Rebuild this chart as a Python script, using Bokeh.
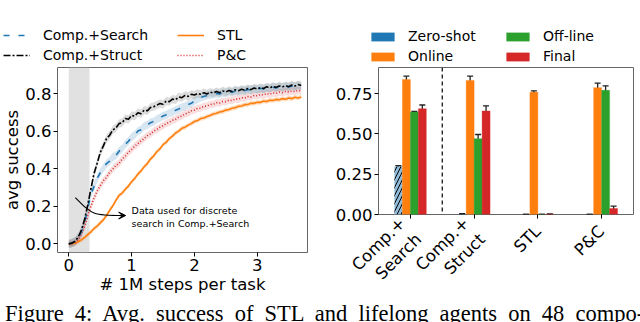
import numpy as np
from bokeh.plotting import figure
from bokeh.models import (ColumnDataSource, Legend, LegendItem, BoxAnnotation, Span, Label,
                          Arrow, VeeHead, Whisker, TeeHead, FixedTicker, NumeralTickFormatter,
                          Div, Range1d)
from bokeh.embed import file_html
from bokeh.resources import INLINE
from bokeh.transform import dodge

# ---------------- data: learning curves ----------------
steps = [0.00, 0.05, 0.10, 0.15, 0.20, 0.25, 0.30, 0.35, 0.40, 0.45, 0.50, 0.55, 0.60, 0.65, 0.70,
         0.75, 0.80, 0.85, 0.90, 0.95, 1.00, 1.05, 1.10, 1.15, 1.20, 1.25, 1.30, 1.35, 1.40, 1.45,
         1.50, 1.55, 1.60, 1.65, 1.70, 1.75, 1.80, 1.85, 1.90, 1.95, 2.00, 2.05, 2.10, 2.15, 2.20,
         2.25, 2.30, 2.35, 2.40, 2.45, 2.50, 2.55, 2.60, 2.65, 2.70, 2.75, 2.80, 2.85, 2.90, 2.95,
         3.00, 3.05, 3.10, 3.15, 3.20, 3.25, 3.30, 3.35, 3.40, 3.45, 3.50, 3.55, 3.60, 3.65, 3.70]

comp_struct = [0.000, 0.004, 0.014, 0.036, 0.072, 0.128, 0.205, 0.290, 0.372, 0.428, 0.486, 0.522, 0.561, 0.579, 0.607,
               0.618, 0.641, 0.646, 0.668, 0.664, 0.684, 0.681, 0.699, 0.694, 0.713, 0.709, 0.727, 0.731, 0.739, 0.748,
               0.744, 0.761, 0.758, 0.772, 0.768, 0.783, 0.779, 0.791, 0.786, 0.797, 0.793, 0.802, 0.797, 0.806, 0.799,
               0.809, 0.804, 0.812, 0.806, 0.815, 0.809, 0.818, 0.812, 0.821, 0.816, 0.824, 0.819, 0.828, 0.822, 0.831,
               0.826, 0.833, 0.828, 0.837, 0.831, 0.839, 0.834, 0.842, 0.836, 0.844, 0.838, 0.847, 0.841, 0.849, 0.844]

comp_search = [0.000, 0.005, 0.013, 0.031, 0.063, 0.112, 0.184, 0.262, 0.305, 0.348, 0.379, 0.404, 0.428, 0.441, 0.462,
               0.471, 0.494, 0.508, 0.531, 0.547, 0.569, 0.581, 0.601, 0.608, 0.627, 0.633, 0.646, 0.652, 0.663, 0.671,
               0.682, 0.688, 0.697, 0.703, 0.712, 0.719, 0.727, 0.733, 0.743, 0.749, 0.762, 0.771, 0.781, 0.786, 0.791,
               0.794, 0.797, 0.801, 0.799, 0.806, 0.803, 0.811, 0.808, 0.815, 0.812, 0.819, 0.816, 0.823, 0.819, 0.826,
               0.822, 0.829, 0.825, 0.832, 0.828, 0.835, 0.831, 0.838, 0.833, 0.840, 0.836, 0.842, 0.838, 0.844, 0.841]

pandc = [0.000, 0.002, 0.009, 0.024, 0.051, 0.092, 0.148, 0.199, 0.243, 0.281, 0.309, 0.337, 0.354, 0.381, 0.398,
         0.418, 0.429, 0.452, 0.468, 0.489, 0.503, 0.521, 0.534, 0.549, 0.561, 0.577, 0.586, 0.601, 0.609, 0.622,
         0.629, 0.641, 0.648, 0.659, 0.664, 0.676, 0.681, 0.693, 0.698, 0.709, 0.713, 0.722, 0.724, 0.733, 0.735,
         0.743, 0.744, 0.752, 0.751, 0.759, 0.758, 0.766, 0.764, 0.772, 0.771, 0.779, 0.777, 0.785, 0.783, 0.791,
         0.789, 0.796, 0.794, 0.801, 0.798, 0.805, 0.802, 0.809, 0.806, 0.812, 0.809, 0.815, 0.812, 0.818, 0.815]

stl = [0.000, 0.001, 0.004, 0.011, 0.021, 0.034, 0.049, 0.063, 0.081, 0.094, 0.112, 0.128, 0.151, 0.178, 0.203,
       0.232, 0.258, 0.271, 0.291, 0.308, 0.331, 0.349, 0.372, 0.389, 0.411, 0.428, 0.452, 0.468, 0.491, 0.506,
       0.529, 0.541, 0.561, 0.574, 0.591, 0.601, 0.616, 0.622, 0.633, 0.641, 0.652, 0.657, 0.668, 0.671, 0.679,
       0.684, 0.692, 0.696, 0.703, 0.706, 0.713, 0.716, 0.723, 0.726, 0.733, 0.735, 0.742, 0.743, 0.749, 0.749,
       0.755, 0.754, 0.761, 0.759, 0.766, 0.764, 0.770, 0.768, 0.774, 0.771, 0.777, 0.774, 0.781, 0.777, 0.783]

band_struct = 0.022
band_search = 0.022
band_pandc = 0.02
band_stl = 0.012
search_window = 0.33   # data used for discrete search

# ---------------- data: bar chart ----------------
methods = ["Comp.+\nSearch", "Comp.+\nStruct", "STL", "P&C"]
zero_shot = [0.298, 0.003, 0.0, 0.0]
zero_shot_err = [0.006, 0.002, 0.0, 0.0]
online = [0.839, 0.833, 0.760, 0.788]
online_err = [0.020, 0.027, 0.008, 0.028]
offline = [0.636, 0.471, 0.0, 0.771]
offline_err = [0.004, 0.026, 0.0, 0.028]
final = [0.657, 0.643, 0.002, 0.037]
final_err = [0.023, 0.032, 0.0, 0.015]

FONT = "DejaVu Sans"
BLUE, ORANGE, GREEN, RED = "#1f77b4", "#ff7f0e", "#2ca02c", "#d62728"
LINE_STYLES = {"STL": (ORANGE, "solid"), "P&C": (RED, "1 2"),
               "Comp.+Search": (BLUE, "6 9"), "Comp.+Struct": ("black", "7 2 2 2")}
NAN = float("nan")


def place(left, top):
    return {"position": "absolute", "left": f"{left}px", "top": f"{top}px"}


def style_legend(lg, gw, gh, standoff):
    lg.label_text_font = FONT
    lg.label_text_font_size = "14px"
    lg.label_text_color = "black"
    lg.glyph_width = gw
    lg.glyph_height = gh
    lg.label_height = 16
    lg.label_standoff = standoff
    lg.spacing = 4
    lg.padding = 0
    lg.margin = 0
    lg.border_line_color = None
    lg.background_fill_alpha = 0


def legend_fig(left):
    f = figure(width=320, height=66, output_backend="svg", toolbar_location=None,
               x_range=Range1d(0, 1), y_range=Range1d(0, 1), x_axis_location=None,
               y_axis_location=None, min_border=0, styles=place(left, 0))
    f.grid.visible = False
    f.outline_line_color = None
    return f


# ================= legend strips =================
lf1 = legend_fig(0)
dummy = {}
for name, (col, dash) in LINE_STYLES.items():
    dummy[name] = lf1.line(x=[NAN], y=[NAN], line_color=col, line_width=1.6, line_dash=dash)
leg_a = Legend(items=[LegendItem(label="Comp.+Search", renderers=[dummy["Comp.+Search"]]),
                      LegendItem(label="Comp.+Struct", renderers=[dummy["Comp.+Struct"]])],
               location=(3, 3))
leg_b = Legend(items=[LegendItem(label="STL", renderers=[dummy["STL"]]),
                      LegendItem(label="P&C", renderers=[dummy["P&C"]])],
               location=(177, 3))
for lg in (leg_a, leg_b):
    style_legend(lg, 27, 16, 13)
    lf1.add_layout(lg, "center")

lf2 = legend_fig(320)
dbar = {}
for name, col in [("Zero-shot", BLUE), ("Online", ORANGE), ("Off-line", GREEN), ("Final", RED)]:
    dbar[name] = lf2.vbar(x=[NAN], top=[NAN], width=0.1, fill_color=col, line_color=None)
leg_c = Legend(items=[LegendItem(label="Zero-shot", renderers=[dbar["Zero-shot"]]),
                      LegendItem(label="Online", renderers=[dbar["Online"]])],
               location=(48, 2))
leg_d = Legend(items=[LegendItem(label="Off-line", renderers=[dbar["Off-line"]]),
                      LegendItem(label="Final", renderers=[dbar["Final"]])],
               location=(183, 2))
for lg in (leg_c, leg_d):
    style_legend(lg, 29, 11, 11)
    lf2.add_layout(lg, "center")

# ================= left figure =================
p1 = figure(width=320, height=234, output_backend="svg", toolbar_location=None,
            x_range=Range1d(-0.18, 3.80), y_range=Range1d(-0.046, 0.94),
            min_border_left=52, min_border_right=13, min_border_top=1, min_border_bottom=48,
            styles=place(0, 66))
p1.grid.visible = False
p1.outline_line_color = "#666666"

p1.add_layout(BoxAnnotation(left=0, right=search_window, fill_color="#d9d9d9", fill_alpha=0.8,
                            line_color=None, level="underlay"))

x = np.array(steps)
series = [
    (stl, band_stl, ORANGE, 0.25, "STL"),
    (pandc, band_pandc, RED, 0.15, "P&C"),
    (comp_search, band_search, BLUE, 0.18, "Comp.+Search"),
    (comp_struct, band_struct, "#9a9a9a", 0.35, "Comp.+Struct"),
]
for ys, b, bcol, balpha, name in series:
    y = np.array(ys)
    p1.varea(x=x, y1=y - b, y2=y + b, fill_color=bcol, fill_alpha=balpha)
for ys, b, bcol, balpha, name in series:
    col, dash = LINE_STYLES[name]
    p1.line(x, ys, line_color=col, line_width=1.6, line_dash=dash)

# annotation arrow (curved)
p1.bezier(x0=[0.104], y0=[0.247], x1=[0.87], y1=[0.151], cx0=[0.385], cy0=[0.151],
          cx1=[0.385], cy1=[0.151], line_color="black", line_width=1.1)
p1.add_layout(Arrow(x_start=0.80, y_start=0.151, x_end=0.905, y_end=0.151, line_color="black",
                    line_width=1.1, end=VeeHead(size=7, fill_color="black", line_color="black")))
p1.add_layout(Label(x=1.0, y=0.205, text="Data used for discrete\nsearch in Comp.+Search",
                    text_font=FONT, text_font_size="9.5px", text_baseline="top",
                    text_line_height=1.15, text_color="black"))

p1.xaxis.ticker = FixedTicker(ticks=[0, 1, 2, 3])
p1.yaxis.ticker = FixedTicker(ticks=[0, 0.2, 0.4, 0.6, 0.8])
p1.yaxis.formatter = NumeralTickFormatter(format="0.0")
p1.xaxis.axis_label = "# 1M steps per task"
p1.yaxis.axis_label = "avg success"
for ax in (p1.xaxis[0], p1.yaxis[0]):
    ax.axis_line_color = None
    ax.major_tick_in = 0
    ax.major_tick_out = 4
    ax.minor_tick_line_color = None
    ax.major_tick_line_color = "black"
    ax.major_label_text_font = FONT
    ax.major_label_text_font_size = "16.5px"
    ax.major_label_text_color = "black"
    ax.axis_label_text_font = FONT
    ax.axis_label_text_font_size = "16.5px"
    ax.axis_label_text_font_style = "normal"
    ax.axis_label_text_color = "black"
    ax.major_label_standoff = 2
    ax.axis_label_standoff = 1
p1.yaxis[0].axis_label_standoff = 0

# ================= right figure =================
p2 = figure(width=320, height=250, output_backend="svg", toolbar_location=None,
            x_range=Range1d(-0.5, 3.5), y_range=Range1d(0, 0.913),
            min_border_left=58, min_border_right=7, min_border_top=1, min_border_bottom=102,
            styles=place(320, 66))
p2.grid.visible = False
p2.outline_line_color = "#666666"

gx = [0, 1, 2, 3]
W = 0.125
zs_src = ColumnDataSource(dict(x=gx, top=zero_shot, lo=[a - b for a, b in zip(zero_shot, zero_shot_err)],
                               hi=[a + b for a, b in zip(zero_shot, zero_shot_err)],
                               color=["#8fbbd9", BLUE, BLUE, BLUE], hatch=["/", " ", " ", " "]))
p2.vbar(x=dodge("x", -1.5 * W), top="top", width=W, source=zs_src, fill_color="color",
        line_color=None, hatch_pattern="hatch", hatch_color="black", hatch_scale=8,
        hatch_weight=1)
srcs = [zs_src]
offs = [-1.5 * W]
for name, vals, errs, col, off in [("Online", online, online_err, ORANGE, -0.5 * W),
                                   ("Off-line", offline, offline_err, GREEN, 0.5 * W),
                                   ("Final", final, final_err, RED, 1.5 * W)]:
    s = ColumnDataSource(dict(x=gx, top=vals, lo=[a - b for a, b in zip(vals, errs)],
                              hi=[a + b for a, b in zip(vals, errs)]))
    p2.vbar(x=dodge("x", off), top="top", width=W, source=s, fill_color=col,
            line_color=col, line_alpha=0.35, line_width=1)
    srcs.append(s)
    offs.append(off)
for s, off in zip(srcs, offs):
    p2.add_layout(Whisker(source=s, base=dodge("x", off), lower="lo", upper="hi",
                          line_color="#222222", line_width=1.3,
                          upper_head=TeeHead(size=6, line_color="#222222", line_width=1.3),
                          lower_head=TeeHead(size=6, line_color="#222222", line_width=1.3)))

p2.add_layout(Span(location=0.5, dimension="height", line_color="black", line_width=1.2,
                   line_dash="4 3"))

p2.xaxis.ticker = FixedTicker(ticks=gx)
p2.xaxis.major_label_overrides = {i: m for i, m in enumerate(methods)}
p2.xaxis.major_label_orientation = np.pi / 4
p2.yaxis.ticker = FixedTicker(ticks=[0, 0.25, 0.5, 0.75])
p2.yaxis.formatter = NumeralTickFormatter(format="0.00")
for ax in (p2.xaxis[0], p2.yaxis[0]):
    ax.axis_line_color = None
    ax.major_tick_in = 0
    ax.major_tick_out = 4
    ax.minor_tick_line_color = None
    ax.major_label_text_font = FONT
    ax.major_label_text_font_size = "16.5px"
    ax.major_label_text_color = "black"
    ax.major_label_standoff = 2
p2.xaxis[0].major_label_standoff = 10

caption = Div(text=("<div style=\"font-family:'Liberation Serif';font-size:22.5px;line-height:17px;"
                    "white-space:nowrap;word-spacing:5.5px;color:black;\">"
                    "Figure 4: Avg. success of STL and lifelong agents on 48 compo-</div>"),
              width=640, height=22, styles=place(0, 300))

open("out.html", "w").write(file_html([lf1, lf2, p1, p2, caption], INLINE))
